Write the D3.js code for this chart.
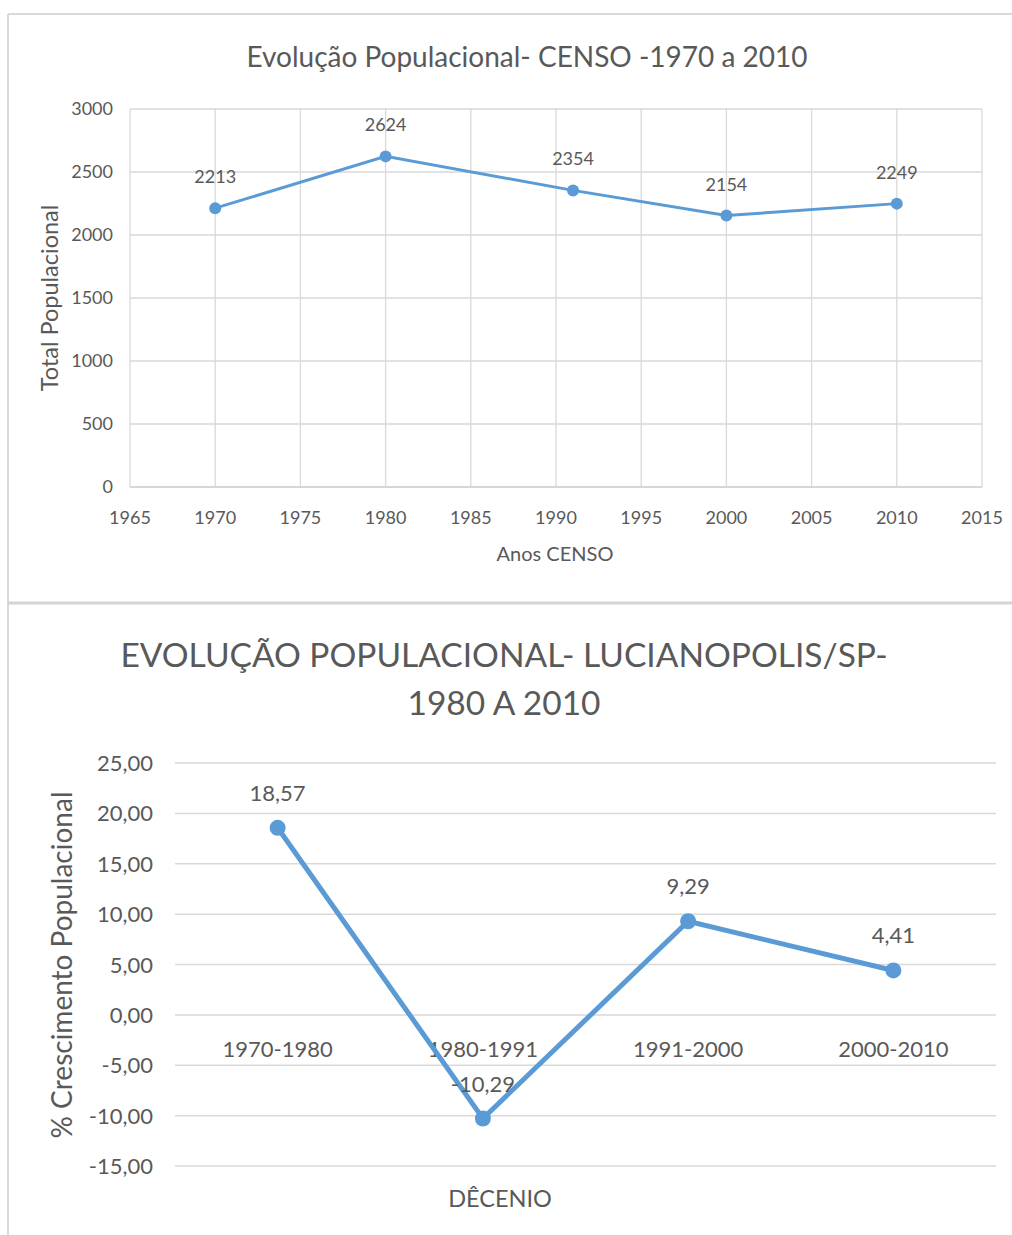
<!DOCTYPE html>
<html>
<head>
<meta charset="utf-8">
<script src="https://cdn.jsdelivr.net/npm/d3@7"></script>
<style>
  body { margin: 0; background: #fff; }
  svg text { font-family: Lato, "Open Sans", sans-serif; fill: #595959; }
</style>
</head>
<body>
<div id="chart"></div>
<script>
const width = 1012;
const height = 1235;

// chart 1: censo
const censoYears = [1970, 1980, 1991, 2000, 2010];
const censoPop = [2213, 2624, 2354, 2154, 2249];
const censoXTicks = [1965, 1970, 1975, 1980, 1985, 1990, 1995, 2000, 2005, 2010, 2015];
const censoYTicks = [0, 500, 1000, 1500, 2000, 2500, 3000];

// chart 2: crescimento por decenio
const decenios = ["1970-1980", "1980-1991", "1991-2000", "2000-2010"];
const crescimento = [18.57, -10.29, 9.29, 4.41];
const crescYTicks = [-15, -10, -5, 0, 5, 10, 15, 20, 25];

const blue = "#5b9bd5";
const grid = "#d9d9d9";

const svg = d3.select("#chart")
  .append("svg")
  .attr("width", width)
  .attr("height", height);

// frame lines
svg.append("line").attr("x1", 8).attr("x2", 8).attr("y1", 14).attr("y2", height)
  .attr("stroke", grid).attr("stroke-width", 2);
svg.append("line").attr("x1", 8).attr("x2", width).attr("y1", 14).attr("y2", 14)
  .attr("stroke", grid).attr("stroke-width", 2);
svg.append("line").attr("x1", 8).attr("x2", width).attr("y1", 603).attr("y2", 603)
  .attr("stroke", "#d4d4d4").attr("stroke-width", 3);

// ---------- top chart ----------
const x1 = d3.scaleLinear().domain([1965, 2015]).range([130, 982]);
const y1 = d3.scaleLinear().domain([0, 3000]).range([487, 109]);

const topG = svg.append("g");

topG.append("text")
  .attr("x", 527).attr("y", 67)
  .attr("text-anchor", "middle")
  .style("font-size", "28px")
  .text("Evolução Populacional- CENSO -1970 a 2010");

topG.append("g")
  .selectAll("line")
  .data(censoYTicks)
  .enter()
  .append("line")
  .attr("x1", x1.range()[0]).attr("x2", x1.range()[1])
  .attr("y1", d => y1(d)).attr("y2", d => y1(d))
  .attr("stroke", d => d === 0 ? "#c8c8c8" : grid)
  .attr("stroke-width", 1.3);

topG.append("g")
  .selectAll("line")
  .data(censoXTicks)
  .enter()
  .append("line")
  .attr("x1", d => x1(d)).attr("x2", d => x1(d))
  .attr("y1", y1.range()[0]).attr("y2", y1.range()[1])
  .attr("stroke", grid)
  .attr("stroke-width", 1.3);

topG.append("g")
  .selectAll("text")
  .data(censoYTicks)
  .enter()
  .append("text")
  .attr("x", 113)
  .attr("y", d => y1(d) + 6)
  .attr("text-anchor", "end")
  .style("font-size", "18px")
  .text(d => d);

topG.append("g")
  .selectAll("text")
  .data(censoXTicks)
  .enter()
  .append("text")
  .attr("x", d => x1(d))
  .attr("y", 524)
  .attr("text-anchor", "middle")
  .style("font-size", "18px")
  .text(d => d);

topG.append("text")
  .attr("x", 555).attr("y", 561)
  .attr("text-anchor", "middle")
  .style("font-size", "20px")
  .text("Anos CENSO");

topG.append("text")
  .attr("transform", "translate(58,298) rotate(-90)")
  .attr("text-anchor", "middle")
  .style("font-size", "23.5px")
  .text("Total Populacional");

const censo = censoYears.map((d, i) => ({ year: d, value: censoPop[i] }));

topG.append("path")
  .datum(censo)
  .attr("fill", "none")
  .attr("stroke", blue)
  .attr("stroke-width", 3)
  .attr("d", d3.line().x(d => x1(d.year)).y(d => y1(d.value)));

topG.selectAll(".dot1")
  .data(censo)
  .enter()
  .append("circle")
  .attr("class", "dot1")
  .attr("cx", d => x1(d.year))
  .attr("cy", d => y1(d.value))
  .attr("r", 6)
  .attr("fill", blue);

topG.selectAll(".lbl1")
  .data(censo)
  .enter()
  .append("text")
  .attr("class", "lbl1")
  .attr("x", d => x1(d.year))
  .attr("y", d => y1(d.value) - 25)
  .attr("text-anchor", "middle")
  .style("font-size", "18px")
  .text(d => d.value);

// ---------- bottom chart ----------
const x2 = d3.scaleBand().domain(decenios).range([175, 996]);
const y2 = d3.scaleLinear().domain([-15, 25]).range([1166, 763]);

const botG = svg.append("g");

botG.append("text")
  .attr("x", 504).attr("y", 667)
  .attr("text-anchor", "middle")
  .style("font-size", "33.5px")
  .text("EVOLUÇÃO POPULACIONAL- LUCIANOPOLIS/SP-");

botG.append("text")
  .attr("x", 504).attr("y", 715)
  .attr("text-anchor", "middle")
  .style("font-size", "33.5px")
  .text("1980 A 2010");

botG.append("g")
  .selectAll("line")
  .data(crescYTicks)
  .enter()
  .append("line")
  .attr("x1", x2.range()[0]).attr("x2", x2.range()[1])
  .attr("y1", d => y2(d)).attr("y2", d => y2(d))
  .attr("stroke", grid)
  .attr("stroke-width", 1.5);

const fmt = d => d3.format(".2f")(d).replace(".", ",").replace("−", "-");

botG.append("g")
  .selectAll("text")
  .data(crescYTicks)
  .enter()
  .append("text")
  .attr("x", 153)
  .attr("y", d => y2(d) + 8)
  .attr("text-anchor", "end")
  .style("font-size", "22px")
  .text(fmt);

botG.append("g")
  .selectAll("text")
  .data(decenios)
  .enter()
  .append("text")
  .attr("x", d => x2(d) + x2.bandwidth() / 2)
  .attr("y", y2(0) + 42)
  .attr("text-anchor", "middle")
  .style("font-size", "22px")
  .text(d => d);

botG.append("text")
  .attr("x", 500).attr("y", 1207)
  .attr("text-anchor", "middle")
  .style("font-size", "23.5px")
  .text("DÊCENIO");

botG.append("text")
  .attr("transform", "translate(72,965) rotate(-90)")
  .attr("text-anchor", "middle")
  .style("font-size", "28px")
  .text("% Crescimento Populacional");

const cresc = decenios.map((d, i) => ({ dec: d, value: crescimento[i] }));

botG.append("path")
  .datum(cresc)
  .attr("fill", "none")
  .attr("stroke", blue)
  .attr("stroke-width", 5)
  .attr("d", d3.line().x(d => x2(d.dec) + x2.bandwidth() / 2).y(d => y2(d.value)));

botG.selectAll(".dot2")
  .data(cresc)
  .enter()
  .append("circle")
  .attr("class", "dot2")
  .attr("cx", d => x2(d.dec) + x2.bandwidth() / 2)
  .attr("cy", d => y2(d.value))
  .attr("r", 8)
  .attr("fill", blue);

botG.selectAll(".lbl2")
  .data(cresc)
  .enter()
  .append("text")
  .attr("class", "lbl2")
  .attr("x", d => x2(d.dec) + x2.bandwidth() / 2)
  .attr("y", d => y2(d.value) - 27)
  .attr("text-anchor", "middle")
  .style("font-size", "22px")
  .text(d => fmt(d.value));
</script>
</body>
</html>
